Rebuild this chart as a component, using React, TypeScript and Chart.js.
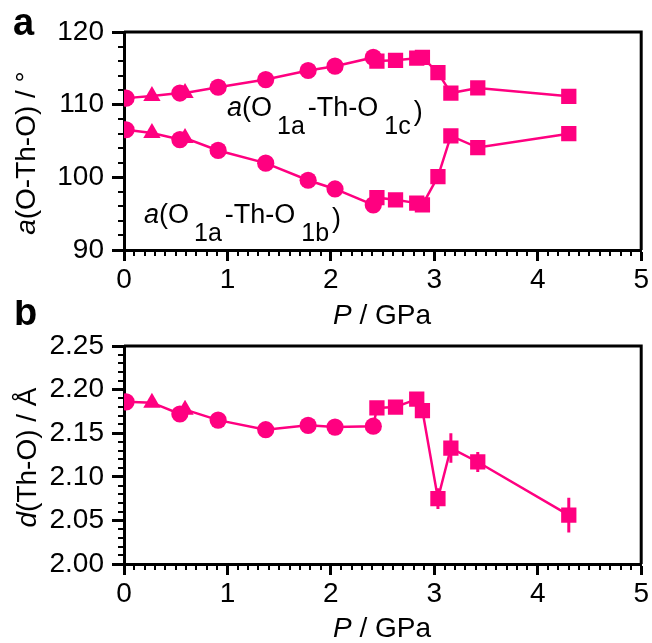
import React, { useEffect, useRef } from 'react';
import { Chart, registerables } from 'chart.js';

Chart.register(...registerables);

const PINK = 'rgb(255,0,128)';
const FAMILY = '"Liberation Sans", Arial, Helvetica, sans-serif';

// Pressure P / GPa for each marker group
const pCircle = [0.02, 0.54, 0.91, 1.37, 1.78, 2.04, 2.41];
const pTriangle = [0.27, 0.59];
const pSquare = [2.445, 2.625, 2.83, 2.885, 3.035, 3.16, 3.42, 4.3];

// a(O1a-Th-O1c) / deg
const angleC_circle = [110.9, 111.6, 112.4, 113.45, 114.7, 115.3, 116.5];
const angleC_triangle = [111.2, 111.6];
const angleC_square = [116.0, 116.1, 116.4, 116.5, 114.4, 111.6, 112.3, 111.15];

// a(O1a-Th-O1b) / deg
const angleB_circle = [106.55, 105.2, 103.7, 101.95, 99.6, 98.4, 96.2];
const angleB_triangle = [106.1, 105.4];
const angleB_square = [97.2, 96.9, 96.45, 96.2, 100.1, 105.7, 104.1, 106.0];

// d(Th-O) / Å
const dist_circle = [2.186, 2.172, 2.165, 2.154, 2.159, 2.157, 2.158];
const dist_triangle = [2.185, 2.177];
const dist_square = [2.179, 2.18, 2.189, 2.176, 2.075, 2.133, 2.117, 2.056];
const dist_square_err = [0.003, 0.003, 0.003, 0.003, 0.012, 0.017, 0.0115, 0.02];

// Ticks
const xTicks = [0, 1, 2, 3, 4, 5];
const xTickLabels = ['0', '1', '2', '3', '4', '5'];
const yTicksA = [90, 100, 110, 120];
const yTickLabelsA = ['90', '100', '110', '120'];
const yTicksB = [2.0, 2.05, 2.1, 2.15, 2.2, 2.25];
const yTickLabelsB = ['2.00', '2.05', '2.10', '2.15', '2.20', '2.25'];
const xMinorStep = 0.1;
const yMinorStepA = 2;
const yMinorStepB = 0.01;

type Run = { t: string; italic?: boolean; bold?: boolean; size: number; dy?: number; gap?: number };

const fontOf = (r: Run) => `${r.italic ? 'italic ' : ''}${r.bold ? 'bold ' : ''}${r.size}px ${FAMILY}`;

function drawRuns(ctx: CanvasRenderingContext2D, runs: Run[], x: number, y: number, center: boolean) {
  let total = 0;
  runs.forEach((r) => {
    ctx.font = fontOf(r);
    total += (r.gap || 0) + ctx.measureText(r.t).width;
  });
  let cx = center ? x - total / 2 : x;
  ctx.textBaseline = 'alphabetic';
  ctx.textAlign = 'left';
  ctx.fillStyle = '#000';
  runs.forEach((r) => {
    ctx.font = fontOf(r);
    cx += r.gap || 0;
    ctx.fillText(r.t, cx, y + (r.dy || 0));
    cx += ctx.measureText(r.t).width;
  });
}

const pts = (xs: number[], ys: number[]) => xs.map((x, i) => ({ x, y: ys[i] }));

function joined(groups: [number[], number[]][]) {
  const all: { x: number; y: number }[] = [];
  groups.forEach(([xs, ys]) => all.push(...pts(xs, ys)));
  all.sort((a, b) => a.x - b.x);
  return all;
}

function lineSet(data: { x: number; y: number }[]) {
  return {
    type: 'line',
    data,
    borderColor: PINK,
    borderWidth: 2.5,
    pointRadius: 0,
    fill: false,
    tension: 0,
    order: 5,
    clip: 0,
  };
}

function markerSets(c: [number[], number[]], t: [number[], number[]], s: [number[], number[]]) {
  const base = {
    type: 'scatter',
    pointBackgroundColor: PINK,
    pointBorderWidth: 0,
    backgroundColor: PINK,
    borderColor: PINK,
    order: 0,
    clip: 0,
  };
  return [
    { ...base, data: pts(c[0], c[1]), pointStyle: 'circle', pointRadius: 8.6, pointHoverRadius: 8.6 },
    { ...base, data: pts(t[0], t[1]), pointStyle: 'triangle', pointRadius: 10, pointHoverRadius: 10 },
    { ...base, data: pts(s[0], s[1]), pointStyle: 'rect', pointRadius: 10.8, pointHoverRadius: 10.8 },
  ];
}

function minorValues(min: number, max: number, step: number, every: number) {
  const out: number[] = [];
  const n = Math.round((max - min) / step);
  for (let i = 0; i <= n; i++) if (i % every !== 0) out.push(min + i * step);
  return out;
}

function makeConfig(o: {
  datasets: any[];
  yMin: number;
  yMax: number;
  yTicks: number[];
  yLabels: string[];
  yMinor: number[];
  padTop: number;
  xHeight: number;
  draw: (ctx: CanvasRenderingContext2D, chart: any) => void;
  beforeDs?: (ctx: CanvasRenderingContext2D, chart: any) => void;
}) {
  const xMinor = minorValues(0, 5, xMinorStep, 10);
  const decor = {
    id: 'decor',
    beforeDatasetsDraw(chart: any) {
      if (o.beforeDs) {
        const ctx = chart.ctx;
        ctx.save();
        o.beforeDs(ctx, chart);
        ctx.restore();
      }
    },
    afterDraw(chart: any) {
      const { ctx, chartArea: a, scales } = chart;
      ctx.save();
      ctx.strokeStyle = '#000';
      ctx.lineCap = 'butt';
      ctx.lineWidth = 3;
      ctx.beginPath();
      ctx.moveTo(a.left, a.top);
      ctx.lineTo(a.right, a.top);
      ctx.lineTo(a.right, a.bottom);
      ctx.stroke();
      ctx.lineWidth = 2;
      ctx.beginPath();
      xMinor.forEach((v) => {
        const px = Math.round(scales.x.getPixelForValue(v));
        ctx.moveTo(px, a.bottom);
        ctx.lineTo(px, a.bottom + 6);
      });
      o.yMinor.forEach((v) => {
        const py = Math.round(scales.y.getPixelForValue(v));
        ctx.moveTo(a.left, py);
        ctx.lineTo(a.left - 6, py);
      });
      ctx.stroke();
      o.draw(ctx, chart);
      ctx.restore();
    },
  };
  const tickFont = { family: FAMILY, size: 28 };
  return {
    type: 'scatter',
    data: { datasets: o.datasets },
    options: {
      animation: false,
      responsive: false,
      devicePixelRatio: 1,
      events: [],
      layout: { padding: { left: 0, right: 10, top: o.padTop, bottom: 0 } },
      plugins: { legend: { display: false }, tooltip: { enabled: false } },
      scales: {
        x: {
          type: 'linear',
          position: 'bottom',
          min: 0,
          max: 5,
          z: 1,
          afterFit: (s: any) => {
            s.height = o.xHeight;
          },
          afterBuildTicks: (s: any) => {
            s.ticks = xTicks.map((v) => ({ value: v }));
          },
          ticks: {
            callback: (_v: any, i: number) => xTickLabels[i],
            font: tickFont,
            color: '#000',
            padding: 2,
            maxRotation: 0,
            autoSkip: false,
          },
          grid: { drawOnChartArea: false, drawTicks: true, tickLength: 11, tickWidth: 3, tickColor: '#000' },
          border: { display: true, width: 3, color: '#000' },
        },
        y: {
          type: 'linear',
          position: 'left',
          min: o.yMin,
          max: o.yMax,
          z: 1,
          afterFit: (s: any) => {
            s.width = 124;
          },
          afterBuildTicks: (s: any) => {
            s.ticks = o.yTicks.map((v) => ({ value: v }));
          },
          ticks: {
            callback: (_v: any, i: number) => o.yLabels[i],
            font: tickFont,
            color: '#000',
            padding: 8,
            autoSkip: false,
          },
          grid: { drawOnChartArea: false, drawTicks: true, tickLength: 12, tickWidth: 3, tickColor: '#000' },
          border: { display: true, width: 3, color: '#000' },
        },
      },
    },
    plugins: [decor],
  } as any;
}

export default function App() {
  const refA = useRef<HTMLCanvasElement>(null);
  const refB = useRef<HTMLCanvasElement>(null);

  useEffect(() => {
    const dsA = [
      lineSet(joined([[pCircle, angleC_circle], [pTriangle, angleC_triangle], [pSquare, angleC_square]])),
      lineSet(joined([[pCircle, angleB_circle], [pTriangle, angleB_triangle], [pSquare, angleB_square]])),
      ...markerSets([pCircle, angleC_circle], [pTriangle, angleC_triangle], [pSquare, angleC_square]),
      ...markerSets([pCircle, angleB_circle], [pTriangle, angleB_triangle], [pSquare, angleB_square]),
    ];
    const cfgA = makeConfig({
      datasets: dsA,
      yMin: 90,
      yMax: 120,
      yTicks: yTicksA,
      yLabels: yTickLabelsA,
      yMinor: minorValues(90, 120, yMinorStepA, 5),
      padTop: 32,
      xHeight: 80,
      draw: (ctx) => {
        drawRuns(ctx, [{ t: 'a', bold: true, size: 38 }], 13, 35, false);
        drawRuns(ctx, [{ t: 'P', italic: true, size: 28 }, { t: ' / GPa', size: 28 }], 382, 324, true);
        ctx.save();
        ctx.translate(35, 153);
        ctx.rotate(-Math.PI / 2);
        drawRuns(ctx, [{ t: 'a', italic: true, size: 28 }, { t: '(O-Th-O) / °', size: 28 }], 0, 0, true);
        ctx.restore();
        drawRuns(
          ctx,
          [
            { t: 'a', italic: true, size: 27 },
            { t: '(O', size: 27 },
            { t: '1a', size: 25, dy: 18, gap: 5 },
            { t: '-Th-O', size: 27, gap: 3 },
            { t: '1c', size: 25, dy: 18, gap: 6 },
            { t: ')', size: 27, dy: 4, gap: 3 },
          ],
          227,
          116,
          false
        );
        drawRuns(
          ctx,
          [
            { t: 'a', italic: true, size: 27 },
            { t: '(O', size: 27 },
            { t: '1a', size: 25, dy: 18, gap: 5 },
            { t: '-Th-O', size: 27, gap: 3 },
            { t: '1b', size: 25, dy: 18, gap: 6 },
            { t: ')', size: 27, dy: 4, gap: 3 },
          ],
          144,
          223,
          false
        );
      },
    });

    const dsB = [
      lineSet(joined([[pCircle, dist_circle], [pTriangle, dist_triangle], [pSquare, dist_square]])),
      ...markerSets([pCircle, dist_circle], [pTriangle, dist_triangle], [pSquare, dist_square]),
    ];
    const cfgB = makeConfig({
      datasets: dsB,
      yMin: 2.0,
      yMax: 2.25,
      yTicks: yTicksB,
      yLabels: yTickLabelsB,
      yMinor: minorValues(2.0, 2.25, yMinorStepB, 5),
      padTop: 46,
      xHeight: 79,
      beforeDs: (ctx, chart) => {
        const { x, y } = chart.scales;
        ctx.strokeStyle = PINK;
        ctx.lineWidth = 3;
        ctx.beginPath();
        pSquare.forEach((p, i) => {
          const px = x.getPixelForValue(p);
          ctx.moveTo(px, y.getPixelForValue(dist_square[i] - dist_square_err[i]));
          ctx.lineTo(px, y.getPixelForValue(dist_square[i] + dist_square_err[i]));
        });
        ctx.stroke();
      },
      draw: (ctx) => {
        drawRuns(ctx, [{ t: 'b', bold: true, size: 38 }], 14, 25, false);
        drawRuns(ctx, [{ t: 'P', italic: true, size: 28 }, { t: ' / GPa', size: 28 }], 382, 337, true);
        ctx.save();
        ctx.translate(36, 157.5);
        ctx.rotate(-Math.PI / 2);
        drawRuns(ctx, [{ t: 'd', italic: true, size: 28 }, { t: '(Th-O) / Å', size: 28 }], 0, 0, true);
        ctx.restore();
      },
    });

    const a = new Chart(refA.current as HTMLCanvasElement, cfgA);
    const b = new Chart(refB.current as HTMLCanvasElement, cfgB);
    return () => {
      a.destroy();
      b.destroy();
    };
  }, []);

  return (
    <div style={{ position: 'absolute', left: 0, top: 0, width: 652, height: 643, background: '#fff' }}>
      <canvas
        ref={refA}
        width={652}
        height={330}
        style={{ position: 'absolute', left: 0, top: 0, width: 652, height: 330, display: 'block' }}
      />
      <canvas
        ref={refB}
        width={652}
        height={343}
        style={{ position: 'absolute', left: 0, top: 300, width: 652, height: 343, display: 'block' }}
      />
    </div>
  );
}
